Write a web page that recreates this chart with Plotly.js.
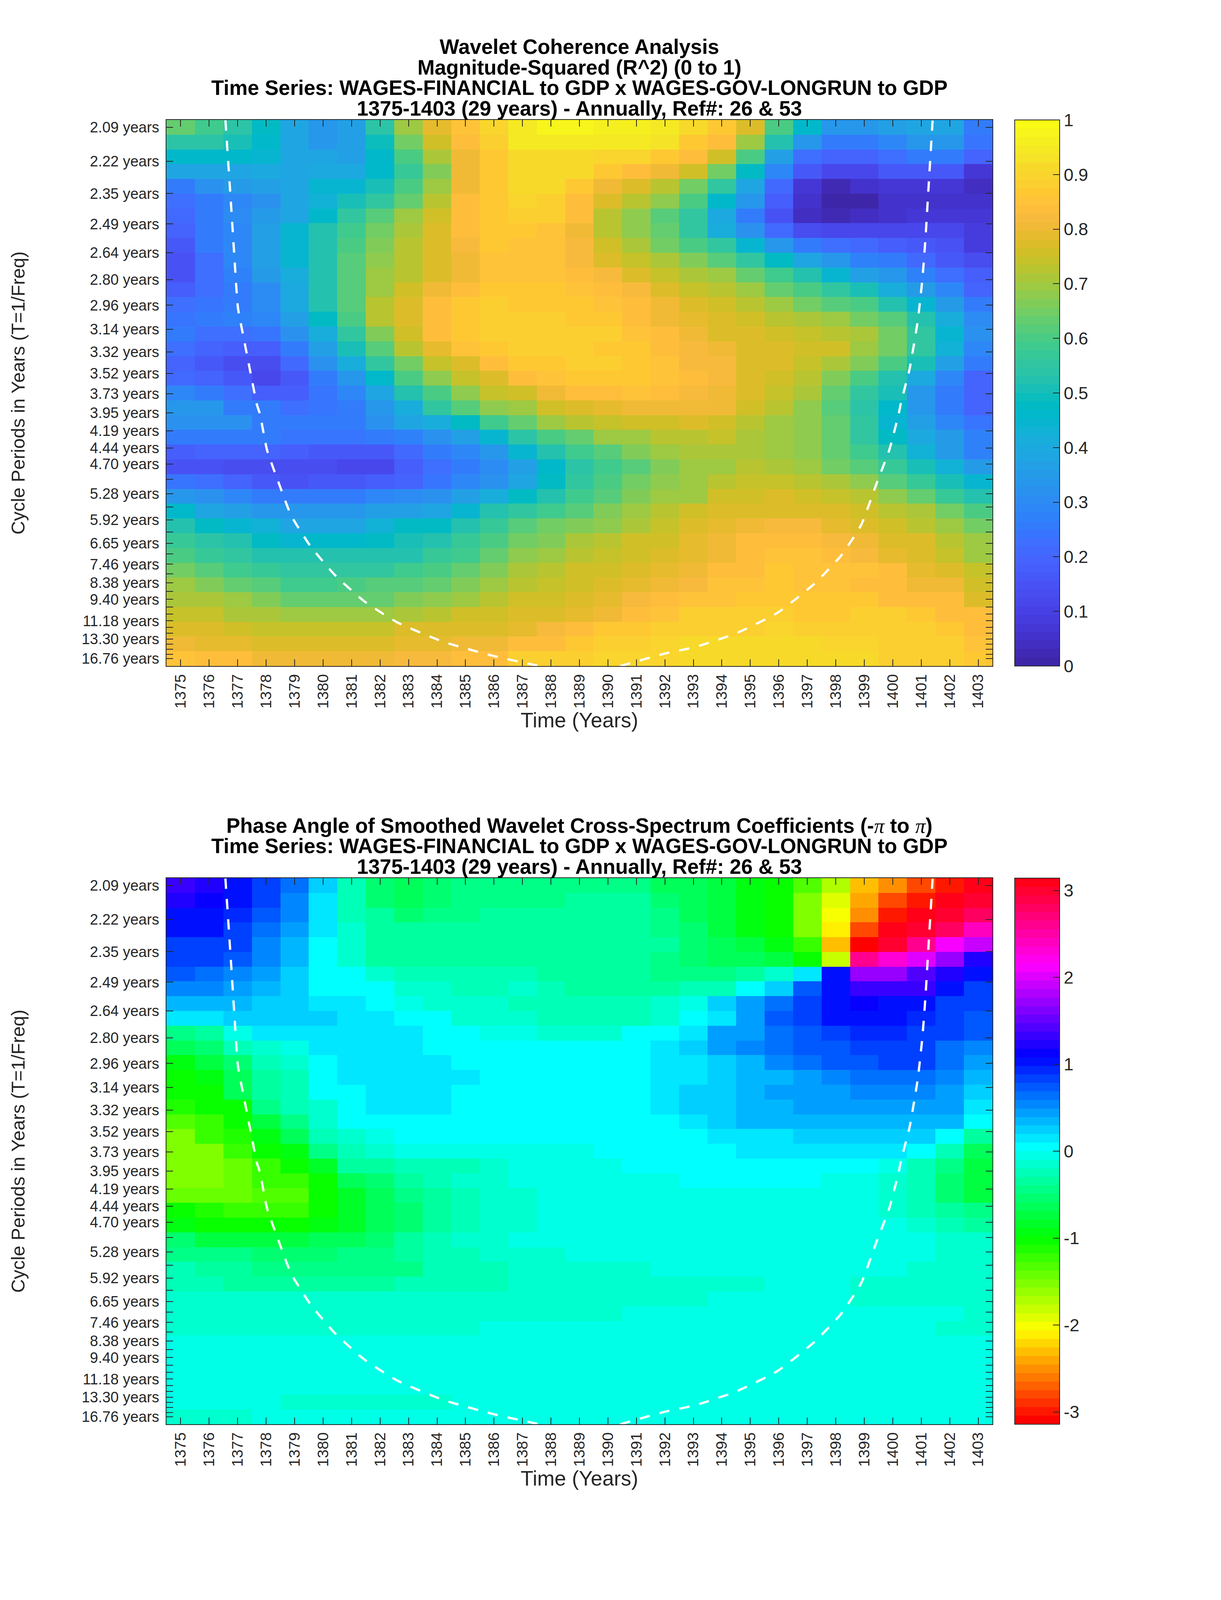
<!DOCTYPE html>
<html>
<head>
<meta charset="utf-8">
<title>Wavelet Coherence Analysis</title>
<script src="https://cdn.plot.ly/plotly-3.0.1.min.js"></script>
<style>
    html, body { margin: 0; padding: 0; background: #fff; overflow: hidden; }
</style>
</head>
<body>
<div id="coherenceChart"></div>
<div id="phaseChart"></div>
<script>
const years = [1375,1376,1377,1378,1379,1380,1381,1382,1383,1384,1385,1386,1387,1388,1389,1390,1391,1392,1393,1394,1395,1396,1397,1398,1399,1400,1401,1402,1403];

// cycle periods of the 37 wavelet scales, the ticks sit at 1/period
const periods = [2.0946,2.2192,2.3511,2.4909,2.6390,2.7960,2.9622,3.1383,3.3250,3.5227,3.7321,3.9541,4.1892,4.4383,4.7022,4.9818,5.2781,5.5919,5.9244,6.2767,6.6500,7.0454,7.4643,7.9082,8.3784,8.8766,9.4045,9.9637,10.5561,11.1838,11.8488,12.5533,13.3000,14.0909,14.9288,15.8165,16.7570];
const periodLabels = ['2.09 years','2.22 years','2.35 years','2.49 years','2.64 years','2.80 years','2.96 years','3.14 years','3.32 years','3.52 years','3.73 years','3.95 years','4.19 years','4.44 years','4.70 years','','5.28 years','','5.92 years','','6.65 years','','7.46 years','','8.38 years','','9.40 years','','','11.18 years','','','13.30 years','','','','16.76 years'];

const coherence = [
    [.63,.59,.54,.47,.39,.33,.37,.54,.70,.79,.85,.90,.95,.98,.98,.96,.96,.95,.91,.86,.78,.60,.46,.34,.34,.37,.39,.39,.26],
    [.54,.54,.51,.46,.38,.34,.37,.49,.65,.75,.84,.89,.94,.95,.95,.94,.94,.93,.87,.84,.70,.52,.34,.25,.25,.29,.33,.33,.245],
    [.46,.46,.46,.45,.39,.38,.37,.46,.60,.71,.80,.87,.92,.92,.91,.90,.90,.87,.84,.76,.60,.37,.23,.19,.19,.22,.25,.25,.19],
    [.39,.39,.39,.40,.39,.40,.40,.46,.57,.67,.80,.86,.92,.92,.91,.87,.84,.81,.75,.65,.48,.29,.17,.11,.11,.16,.17,.17,.07],
    [.265,.315,.35,.365,.39,.44,.44,.51,.60,.70,.80,.86,.91,.91,.86,.81,.77,.72,.65,.55,.38,.21,.07,.03,.05,.07,.07,.07,.035],
    [.22,.26,.285,.315,.38,.43,.50,.56,.64,.72,.83,.87,.90,.89,.84,.77,.72,.68,.60,.46,.33,.18,.05,0,0,.05,.055,.055,.055],
    [.21,.26,.30,.35,.39,.46,.55,.62,.69,.75,.84,.87,.89,.88,.83,.73,.68,.61,.55,.40,.265,.15,.04,.03,.035,.05,.07,.07,.07],
    [.20,.25,.29,.37,.44,.52,.58,.65,.71,.77,.84,.87,.87,.85,.80,.73,.68,.63,.55,.42,.315,.21,.13,.11,.11,.11,.11,.11,.09],
    [.17,.25,.29,.37,.44,.53,.60,.66,.72,.78,.82,.86,.85,.85,.82,.76,.71,.65,.60,.55,.44,.33,.265,.23,.21,.18,.16,.15,.09],
    [.15,.23,.285,.37,.44,.53,.62,.68,.73,.78,.81,.85,.85,.85,.82,.78,.74,.71,.66,.62,.55,.48,.39,.33,.28,.25,.21,.17,.13],
    [.15,.23,.28,.355,.42,.53,.62,.69,.73,.78,.81,.85,.85,.85,.84,.82,.78,.74,.71,.69,.64,.58,.53,.44,.37,.33,.27,.23,.18],
    [.18,.23,.25,.30,.40,.53,.62,.69,.75,.80,.84,.86,.87,.87,.85,.83,.82,.78,.74,.72,.69,.64,.60,.55,.50,.41,.35,.285,.20],
    [.23,.24,.25,.31,.40,.53,.62,.72,.77,.83,.86,.88,.87,.87,.87,.85,.83,.80,.78,.75,.72,.69,.65,.62,.60,.52,.44,.35,.25],
    [.245,.265,.28,.29,.37,.48,.60,.72,.77,.83,.87,.88,.89,.89,.87,.87,.83,.81,.79,.77,.75,.73,.71,.69,.65,.61,.53,.42,.30],
    [.25,.23,.23,.24,.325,.42,.56,.66,.76,.83,.87,.88,.89,.89,.89,.88,.85,.84,.81,.78,.77,.75,.74,.72,.71,.65,.56,.44,.315],
    [.22,.19,.18,.18,.25,.365,.50,.62,.72,.79,.85,.86,.88,.89,.89,.87,.87,.84,.82,.80,.78,.77,.75,.75,.70,.65,.56,.43,.29],
    [.19,.17,.14,.14,.21,.325,.41,.56,.65,.74,.78,.84,.87,.87,.89,.89,.87,.85,.82,.82,.78,.77,.74,.71,.66,.60,.50,.37,.25],
    [.21,.20,.16,.12,.17,.26,.33,.46,.60,.68,.74,.78,.84,.85,.87,.87,.87,.85,.83,.82,.78,.75,.72,.67,.60,.53,.40,.29,.20],
    [.285,.265,.22,.18,.18,.24,.29,.39,.52,.60,.68,.74,.76,.80,.84,.84,.85,.84,.82,.80,.78,.74,.71,.64,.56,.50,.33,.25,.20],
    [.33,.33,.265,.25,.22,.245,.26,.34,.42,.55,.62,.68,.70,.75,.77,.79,.80,.81,.81,.80,.75,.73,.68,.62,.54,.46,.33,.26,.20],
    [.325,.325,.325,.26,.26,.25,.265,.325,.38,.42,.48,.58,.63,.69,.72,.74,.75,.75,.77,.75,.73,.70,.68,.64,.56,.45,.365,.29,.24],
    [.265,.265,.265,.26,.245,.24,.24,.26,.28,.325,.365,.45,.54,.60,.64,.69,.70,.72,.72,.74,.71,.70,.68,.63,.56,.47,.40,.35,.28],
    [.18,.19,.19,.19,.18,.16,.16,.16,.21,.25,.285,.34,.44,.52,.58,.62,.66,.69,.71,.71,.71,.70,.68,.63,.58,.52,.43,.35,.28],
    [.15,.15,.13,.13,.13,.13,.12,.12,.18,.22,.26,.30,.365,.46,.54,.59,.62,.66,.69,.70,.72,.71,.70,.65,.62,.57,.50,.43,.35],
    [.245,.23,.20,.16,.15,.16,.16,.18,.20,.24,.285,.325,.39,.48,.55,.60,.65,.68,.70,.72,.74,.74,.73,.71,.68,.62,.57,.50,.45],
    [.33,.325,.285,.265,.25,.26,.265,.285,.31,.325,.365,.42,.47,.52,.58,.62,.66,.69,.70,.75,.75,.77,.75,.74,.72,.68,.63,.57,.52],
    [.46,.39,.37,.33,.33,.33,.34,.365,.37,.39,.45,.52,.55,.58,.62,.66,.69,.73,.75,.77,.78,.78,.78,.77,.75,.73,.71,.65,.60],
    [.53,.47,.45,.43,.38,.39,.39,.43,.47,.48,.53,.57,.62,.65,.66,.68,.71,.74,.78,.79,.80,.82,.82,.79,.78,.75,.72,.69,.65],
    [.57,.54,.52,.47,.45,.46,.46,.47,.50,.53,.57,.60,.65,.67,.71,.73,.75,.76,.79,.81,.84,.84,.84,.82,.80,.78,.77,.72,.69],
    [.60,.57,.55,.53,.52,.52,.52,.52,.53,.57,.59,.63,.68,.70,.72,.74,.76,.77,.79,.81,.84,.85,.85,.84,.82,.79,.77,.74,.70],
    [.65,.61,.58,.57,.55,.55,.55,.55,.58,.60,.63,.66,.71,.73,.75,.75,.77,.79,.80,.83,.83,.86,.85,.85,.85,.83,.79,.77,.74],
    [.69,.66,.63,.62,.59,.59,.60,.61,.61,.63,.66,.69,.73,.74,.76,.78,.79,.81,.82,.85,.85,.86,.85,.85,.84,.83,.81,.80,.76],
    [.71,.71,.69,.66,.64,.64,.64,.64,.67,.68,.69,.73,.75,.76,.78,.79,.82,.84,.85,.85,.87,.87,.87,.87,.86,.84,.84,.83,.78],
    [.74,.74,.71,.71,.70,.70,.70,.70,.71,.73,.75,.76,.78,.78,.79,.81,.83,.85,.88,.88,.88,.88,.87,.87,.88,.88,.87,.84,.83],
    [.78,.77,.76,.74,.74,.74,.74,.74,.77,.77,.77,.78,.79,.82,.83,.86,.86,.89,.88,.89,.89,.90,.89,.89,.89,.88,.88,.87,.83],
    [.81,.79,.79,.78,.78,.78,.78,.78,.79,.79,.80,.81,.84,.84,.86,.88,.88,.90,.91,.91,.92,.92,.91,.90,.90,.89,.88,.88,.85],
    [.85,.83,.83,.81,.81,.81,.81,.81,.82,.82,.83,.83,.89,.89,.89,.90,.90,.90,.91,.92,.92,.92,.92,.92,.92,.89,.89,.89,.86]
];

const phase = [
    [1.3,1.2,1.05,.85,.62,.2,-.25,-.5,-.65,-.58,-.45,-.4,-.45,-.45,-.45,-.45,-.45,-.6,-.65,-.75,-.95,-1.05,-1.35,-1.75,-2.3,-2.55,-2.75,-2.95,3.05],
    [1.25,1.08,1.05,.85,.55,.18,-.22,-.55,-.65,-.55,-.42,-.4,-.4,-.4,-.3,-.38,-.38,-.55,-.65,-.75,-.95,-1.05,-1.5,-1.9,-2.45,-2.75,-2.95,3.14,2.95],
    [1.05,1.03,.95,.75,.53,.18,-.2,-.38,-.55,-.4,-.4,-.33,-.38,-.3,-.3,-.3,-.35,-.45,-.6,-.72,-.9,-1.03,-1.5,-2.05,-2.55,-2.95,3.14,3.0,2.75],
    [1.03,1.03,.88,.68,.45,.16,-.1,-.33,-.38,-.38,-.38,-.38,-.3,-.3,-.3,-.3,-.35,-.42,-.55,-.72,-.9,-1.03,-1.5,-2.15,-2.75,3.14,2.95,2.75,2.4],
    [.88,.88,.8,.55,.33,.08,-.1,-.3,-.3,-.3,-.3,-.3,-.3,-.3,-.3,-.3,-.3,-.35,-.5,-.6,-.75,-.95,-1.2,-2.3,-3.05,2.95,2.6,2.15,1.95],
    [.85,.85,.72,.55,.33,.06,-.1,-.3,-.3,-.35,-.33,-.33,-.3,-.3,-.3,-.3,-.3,-.4,-.5,-.65,-.65,-.75,-1.05,-1.8,2.6,2.3,2.05,1.7,1.25],
    [.72,.65,.55,.42,.2,.08,.05,-.1,-.26,-.26,-.26,-.26,-.28,-.3,-.3,-.3,-.3,-.45,-.45,-.45,-.38,-.15,.18,1.05,1.7,1.75,1.45,1.25,1.0],
    [.5,.5,.42,.32,.2,.08,.05,.05,-.13,-.13,-.2,-.2,-.15,-.25,-.3,-.3,-.3,-.3,-.25,-.2,.05,.2,.7,1.03,1.3,1.3,1.3,1.05,.8],
    [.3,.3,.3,.2,.2,.1,.1,.05,-.02,-.1,-.1,-.1,-.2,-.2,-.25,-.25,-.25,-.13,-.05,.2,.4,.65,.85,1.05,1.15,1.05,1.0,.85,.8],
    [.15,.15,.2,.2,.2,.2,.12,.12,.05,.05,-.1,-.1,-.1,-.2,-.2,-.2,-.2,-.13,.05,.17,.4,.7,.85,1.0,1.0,1.0,.9,.85,.75],
    [-.4,-.3,-.02,.12,.12,.12,.12,.12,.12,.05,.05,-.02,-.02,-.13,-.13,-.13,.05,.08,.1,.4,.45,.65,.75,.85,.95,.95,.85,.8,.7],
    [-.65,-.5,-.25,-.15,-.02,.12,.12,.12,.12,.05,.05,.05,.05,.05,.05,.05,.05,.1,.25,.4,.5,.6,.7,.75,.85,.85,.8,.65,.5],
    [-.9,-.7,-.55,-.2,-.15,.05,.12,.12,.12,.12,.05,.05,.05,.05,.05,.05,.05,.12,.12,.2,.3,.5,.65,.75,.75,.8,.8,.65,.45],
    [-1.0,-.9,-.65,-.3,-.2,.05,.1,.12,.12,.12,.12,.05,.05,.05,.05,.05,.05,.12,.12,.2,.3,.3,.45,.5,.65,.65,.65,.5,.3],
    [-1.05,-1.0,-.6,-.3,-.2,.05,.05,.12,.12,.12,.05,.05,.05,.05,.05,.05,.05,.12,.2,.2,.35,.45,.45,.45,.55,.55,.55,.45,.2],
    [-1.15,-1.05,-1.0,-.4,-.2,-.1,.05,.12,.12,.12,.05,.05,.05,.05,.05,.05,.05,.12,.2,.2,.35,.35,.45,.45,.45,.45,.45,.4,.12],
    [-1.3,-1.2,-1.05,-.75,-.4,-.15,.05,.05,.05,.05,.05,.05,.05,.05,.05,.05,.05,.05,.12,.2,.3,.3,.3,.35,.35,.35,.35,.3,.05],
    [-1.5,-1.25,-1.1,-.9,-.65,-.25,-.12,-.08,.05,.05,.05,.05,.05,.05,.05,.05,.05,.05,.05,.15,.15,.15,.25,.25,.25,.25,.2,.05,-.35],
    [-1.5,-1.5,-1.25,-1.05,-.9,-.45,-.2,-.15,-.05,-.05,-.05,-.05,-.05,-.05,-.05,.05,.05,.05,.05,.05,.12,.12,.12,.12,.12,.12,.05,-.2,-.65],
    [-1.5,-1.5,-1.4,-1.2,-1.05,-.85,-.35,-.3,-.25,-.2,-.2,-.1,-.05,-.05,-.05,-.05,.05,.05,.05,.05,.05,.05,.05,.05,.05,-.05,-.2,-.45,-.7],
    [-1.5,-1.5,-1.4,-1.25,-1.2,-1.05,-.6,-.5,-.3,-.25,-.15,-.15,-.05,-.05,-.05,-.05,-.05,-.05,.05,.05,.05,.05,.05,-.05,-.05,-.1,-.25,-.5,-.75],
    [-1.4,-1.4,-1.4,-1.35,-1.35,-1.05,-.8,-.6,-.4,-.35,-.2,-.12,-.12,-.05,-.05,-.05,-.05,-.05,-.05,-.05,-.05,-.05,-.05,-.05,-.05,-.1,-.25,-.5,-.7],
    [-1.05,-1.1,-1.25,-1.25,-1.2,-1.05,-.85,-.6,-.55,-.3,-.2,-.1,-.1,-.05,-.05,-.05,-.05,-.05,-.05,-.05,-.05,-.05,-.05,-.05,-.05,-.1,-.2,-.3,-.45],
    [-.9,-1.0,-1.05,-1.05,-1.05,-.9,-.85,-.6,-.5,-.35,-.2,-.15,-.1,-.05,-.05,-.05,-.05,-.05,-.05,-.05,-.05,-.05,-.05,-.05,-.05,-.05,-.1,-.2,-.3],
    [-.55,-.7,-.7,-.75,-.7,-.65,-.6,-.5,-.3,-.2,-.12,-.12,-.05,-.05,-.05,-.05,-.05,-.05,-.05,-.05,-.05,-.05,-.05,-.05,-.05,-.05,-.05,-.1,-.1],
    [-.4,-.4,-.4,-.5,-.5,-.5,-.45,-.45,-.3,-.25,-.25,-.1,-.1,-.1,-.05,-.05,-.05,-.05,-.05,-.05,-.05,-.05,-.05,-.05,-.05,-.05,-.05,-.1,-.1],
    [-.25,-.38,-.38,-.4,-.4,-.4,-.4,-.4,-.4,-.25,-.25,-.25,-.15,-.15,-.15,-.15,-.15,-.05,-.05,-.05,-.05,-.05,-.05,-.05,-.05,-.05,-.1,-.1,-.1],
    [-.2,-.2,-.35,-.35,-.35,-.35,-.35,-.35,-.2,-.2,-.2,-.2,-.15,-.15,-.15,-.15,-.15,-.15,-.15,-.15,-.15,-.05,-.05,-.05,-.1,-.1,-.1,-.1,-.1],
    [-.15,-.15,-.15,-.15,-.15,-.15,-.15,-.15,-.15,-.15,-.15,-.15,-.15,-.15,-.15,-.15,-.15,-.15,-.15,-.05,-.05,-.05,-.05,-.05,-.1,-.1,-.1,-.1,-.1],
    [-.12,-.12,-.12,-.12,-.12,-.12,-.12,-.1,-.1,-.1,-.1,-.1,-.1,-.12,-.12,-.12,-.05,-.05,-.05,-.05,-.05,-.05,-.05,-.05,-.05,-.05,-.05,-.05,-.1],
    [-.12,-.12,-.12,-.12,-.12,-.12,-.12,-.12,-.12,-.1,-.1,-.05,-.05,-.05,-.05,-.05,-.05,-.05,-.05,-.05,-.05,-.05,-.05,-.05,-.05,-.05,-.05,-.1,-.1],
    [-.08,-.08,-.08,-.08,-.08,-.08,-.08,-.08,-.08,-.05,-.05,-.05,-.05,-.05,-.05,-.05,-.05,-.05,-.05,-.05,-.05,-.05,-.05,-.05,-.05,-.05,-.05,-.05,-.05],
    [-.05,-.05,-.05,-.05,-.05,-.05,-.05,-.05,-.05,-.05,-.05,-.05,-.05,-.05,-.05,-.05,-.05,-.05,-.05,-.05,-.05,-.05,-.05,-.05,-.05,-.05,-.05,-.05,-.05],
    [-.05,-.05,-.05,-.05,-.05,-.05,-.05,-.05,-.05,-.05,-.05,-.05,-.05,-.05,-.05,-.05,-.05,-.05,-.05,-.05,-.05,-.05,-.05,-.05,-.05,-.05,-.05,-.05,-.05],
    [-.05,-.05,-.05,-.05,-.05,-.05,-.05,-.05,-.05,-.05,-.05,-.05,-.05,-.05,-.05,-.05,-.05,-.05,-.05,-.05,-.05,-.05,-.05,-.05,-.05,-.05,-.05,-.05,-.05],
    [-.06,-.06,-.06,-.06,-.1,-.1,-.1,-.1,-.1,-.1,-.05,-.05,-.05,-.05,-.05,-.05,-.05,-.05,-.05,-.05,-.05,-.05,-.05,-.05,-.05,-.05,-.05,-.05,-.05],
    [-.1,-.1,-.1,-.07,-.07,-.07,-.07,-.07,-.07,-.07,-.07,-.07,-.07,-.07,-.07,-.07,-.07,-.07,-.07,-.07,-.07,-.07,-.07,-.07,-.07,-.07,-.07,-.07,-.07]
];

// cone of influence, two branches split by a gap, in years and frequency (1/years)
const coiYears = [1376.57,1376.78,1376.89,1377.01,1377.23,1377.45,1377.68,1377.78,1378.03,1378.45,1378.88,1379.56,1380.41,1381.45,1382.62,1384.21,1385.93,1387.52,1387.7,null,1390.43,1392.00,1393.05,1394.50,1395.94,1397.26,1398.18,1398.89,1399.43,1399.88,1400.21,1400.30,1400.59,1400.88,1401.04,1401.15,1401.22,1401.40];
const coiFreq = [.4829,.4125,.3739,.3355,.3097,.2846,.2590,.2522,.2238,.1973,.1721,.1480,.1255,.1047,.0880,.0730,.0621,.0542,.0535,null,.0538,.0637,.0687,.0796,.0955,.1188,.1405,.1647,.1973,.2238,.2522,.2621,.2872,.3256,.3580,.3902,.4165,.4827];

const parula = [[.2422,.1504,.6603],[.2504,.1650,.7076],[.2578,.1818,.7511],[.2647,.1978,.7952],[.2706,.2147,.8364],[.2751,.2342,.8710],[.2783,.2559,.8991],[.2803,.2782,.9221],[.2813,.3006,.9414],[.2810,.3228,.9579],[.2795,.3447,.9717],[.2760,.3667,.9829],[.2699,.3892,.9906],[.2602,.4123,.9952],[.2440,.4358,.9988],[.2206,.4603,.9973],[.1963,.4847,.9892],[.1834,.5074,.9798],[.1786,.5289,.9682],[.1764,.5499,.9520],[.1687,.5703,.9359],[.1540,.5902,.9218],[.1460,.6091,.9079],[.1380,.6276,.8973],[.1248,.6459,.8883],[.1113,.6635,.8763],[.0952,.6798,.8598],[.0689,.6948,.8394],[.0297,.7082,.8163],[.0036,.7203,.7917],[.0067,.7312,.7660],[.0433,.7411,.7394],[.0964,.7500,.7120],[.1408,.7584,.6842],[.1717,.7670,.6554],[.1938,.7758,.6251],[.2161,.7843,.5923],[.2470,.7918,.5567],[.2906,.7973,.5188],[.3406,.8008,.4789],[.3909,.8029,.4354],[.4456,.8024,.3909],[.5044,.7993,.3480],[.5616,.7942,.3045],[.6174,.7876,.2612],[.6720,.7793,.2227],[.7242,.7698,.1910],[.7738,.7598,.1646],[.8203,.7498,.1535],[.8634,.7406,.1596],[.9035,.7330,.1774],[.9393,.7288,.2100],[.9728,.7298,.2394],[.9956,.7434,.2371],[.9970,.7659,.2199],[.9952,.7861,.1990],[.9892,.8134,.1884],[.9786,.8352,.1766],[.9676,.8559,.1608],[.9610,.8890,.1537],[.9597,.9135,.1423],[.9628,.9373,.1265],[.9691,.9606,.1064],[.9769,.9839,.0805]];

const TEXT_COLOR = '#262626';
const FONT = '"Liberation Sans", Arial, sans-serif';

// the browser window can be shorter than the 3125x6252 page, so the layout
// follows the window: sx, sy map reference pixels, fs is for strokes
const W = window.innerWidth;
const H = window.innerHeight;
const sx = W / 3125;
const sy = H / 6252;
const fs = Math.min(1, (sx + sy) / 2);
const PANEL_H = H / 2;

// reference font size, shrunk only as far as a squeezed window needs
function fit(size, k) {
    return size * Math.min(1, sy * k);
}

function hsvColor(h) {
    const i = Math.floor(h * 6);
    const f = h * 6 - i;
    const rows = [[1, f, 0], [1 - f, 1, 0], [0, 1, f], [0, 1 - f, 1], [f, 0, 1], [1, 0, 1 - f]];
    return rows[i % 6];
}

// stepped colorscale, same look as a 64 colour matlab colormap
function steppedScale(colors) {
    const scale = [];
    colors.forEach((c, i) => {
        const rgb = `rgb(${Math.round(c[0] * 255)},${Math.round(c[1] * 255)},${Math.round(c[2] * 255)})`;
        scale.push([i / colors.length, rgb]);
        scale.push([(i + 1) / colors.length, rgb]);
    });
    return scale;
}

function titleLines(lines) {
    return lines.map(line => `<span style="font-size:${fit(64, 1.26)}px">${line}</span>`).join('<br>');
}

function renderPanel(divId, config) {
    const freq = periods.map(p => 1 / p);
    const first = freq[0];
    const last = freq[freq.length - 1];
    const step = (first - last) / (freq.length - 1);
    // the image cells are uniform in the row index, stretched between first and last frequency
    const rowFreq = periods.map((p, i) => first - i * step);

    const top = config.top * sy;
    const plotH = 2134 * sy;

    const heat = {
        type: 'heatmap',
        x: years,
        y: rowFreq,
        z: config.z,
        zmin: config.zmin,
        zmax: config.zmax,
        zsmooth: false,
        colorscale: config.colorscale,
        hoverinfo: 'skip',
        colorbar: {
            x: 1.02696,
            xanchor: 'left',
            xref: 'paper',
            y: 0,
            yanchor: 'bottom',
            yref: 'paper',
            len: 1,
            lenmode: 'fraction',
            thickness: 115 * sx,
            thicknessmode: 'pixels',
            xpad: 0,
            ypad: 0,
            outlinecolor: TEXT_COLOR,
            outlinewidth: 2,
            tickmode: 'array',
            tickvals: config.cbTicks,
            ticktext: config.cbLabels,
            ticks: 'inside',
            ticklen: 21 * fs,
            tickwidth: 2,
            tickcolor: TEXT_COLOR,
            tickfont: { family: FONT, size: fit(54, 1.27), color: TEXT_COLOR }
        }
    };

    const cone = {
        type: 'scatter',
        mode: 'lines',
        x: coiYears,
        y: coiFreq,
        connectgaps: false,
        hoverinfo: 'skip',
        showlegend: false,
        line: { color: '#ffffff', width: 7 * fs, dash: `${32 * fs}px,${31 * fs}px`, shape: 'spline', smoothing: 0.5 }
    };

    const axisBase = {
        ticks: 'inside',
        ticklen: 21 * fs,
        tickwidth: 2,
        tickcolor: TEXT_COLOR,
        showline: true,
        linecolor: TEXT_COLOR,
        linewidth: 2,
        mirror: 'ticks',
        showgrid: false,
        zeroline: false
    };

    const layout = {
        width: W,
        height: PANEL_H,
        paper_bgcolor: '#ffffff',
        plot_bgcolor: '#ffffff',
        showlegend: false,
        margin: { l: 426 * sx, r: 585 * sx, t: top, b: PANEL_H - top - plotH, pad: 0 },
        font: { family: FONT, color: TEXT_COLOR },
        title: {
            text: config.title,
            font: { family: FONT, size: 80 * sy / 1.3, color: '#000000', weight: 'bold' },
            x: 0.5,
            xref: 'paper',
            xanchor: 'center',
            y: 1 - (config.titleBaseline * sy + 2) / PANEL_H,
            yref: 'container',
            yanchor: 'top'
        },
        xaxis: {
            ...axisBase,
            range: [1374.5, 1403.5],
            tickmode: 'array',
            tickvals: years,
            ticktext: years.map(String),
            tickangle: -90,
            ticklabelstandoff: 3,
            tickfont: { family: FONT, size: fit(57, 1.06), color: TEXT_COLOR },
            title: { text: 'Time (Years)', font: { family: FONT, size: fit(64, 1.27), color: TEXT_COLOR }, standoff: 12 }
        },
        yaxis: {
            ...axisBase,
            range: [last - step / 2, first + step / 2],
            tickmode: 'array',
            tickvals: freq,
            ticktext: periodLabels,
            ticklabelstandoff: 9,
            tickfont: { family: FONT, size: fit(58, 1.0), color: TEXT_COLOR },
            title: { text: 'Cycle Periods in Years (T=1/Freq)', font: { family: FONT, size: fit(64, 1.15), color: TEXT_COLOR }, standoff: 130 }
        }
    };

    Plotly.newPlot(divId, [heat, cone], layout, { displayModeBar: false, staticPlot: true });
}

const hsv64 = [];
for (let i = 0; i < 64; i++) hsv64.push(hsvColor(i / 64));

renderPanel('coherenceChart', {
    z: coherence,
    zmin: 0,
    zmax: 1,
    colorscale: steppedScale(parula),
    cbTicks: [0, 0.1, 0.2, 0.3, 0.4, 0.5, 0.6, 0.7, 0.8, 0.9, 1],
    cbLabels: ['0', '0.1', '0.2', '0.3', '0.4', '0.5', '0.6', '0.7', '0.8', '0.9', '1'],
    top: 469,
    titleBaseline: 208,
    title: titleLines([
        'Wavelet Coherence Analysis',
        'Magnitude-Squared (R^2) (0 to 1)',
        'Time Series: WAGES-FINANCIAL to GDP x WAGES-GOV-LONGRUN to GDP',
        '1375-1403 (29 years) - Annually, Ref#: 26 & 53'
    ])
});

const piSign = `<span style="font-family:'Liberation Serif';font-weight:normal;font-style:italic">π</span>`;

renderPanel('phaseChart', {
    z: phase,
    zmin: -Math.PI,
    zmax: Math.PI,
    colorscale: steppedScale(hsv64),
    cbTicks: [-3, -2, -1, 0, 1, 2, 3],
    cbLabels: ['-3', '-2', '-1', '0', '1', '2', '3'],
    top: 305,
    titleBaseline: 125,
    title: titleLines([
        `Phase Angle of Smoothed Wavelet Cross-Spectrum Coefficients (-${piSign} to ${piSign})`,
        'Time Series: WAGES-FINANCIAL to GDP x WAGES-GOV-LONGRUN to GDP',
        '1375-1403 (29 years) - Annually, Ref#: 26 & 53'
    ])
});
</script>
</body>
</html>
